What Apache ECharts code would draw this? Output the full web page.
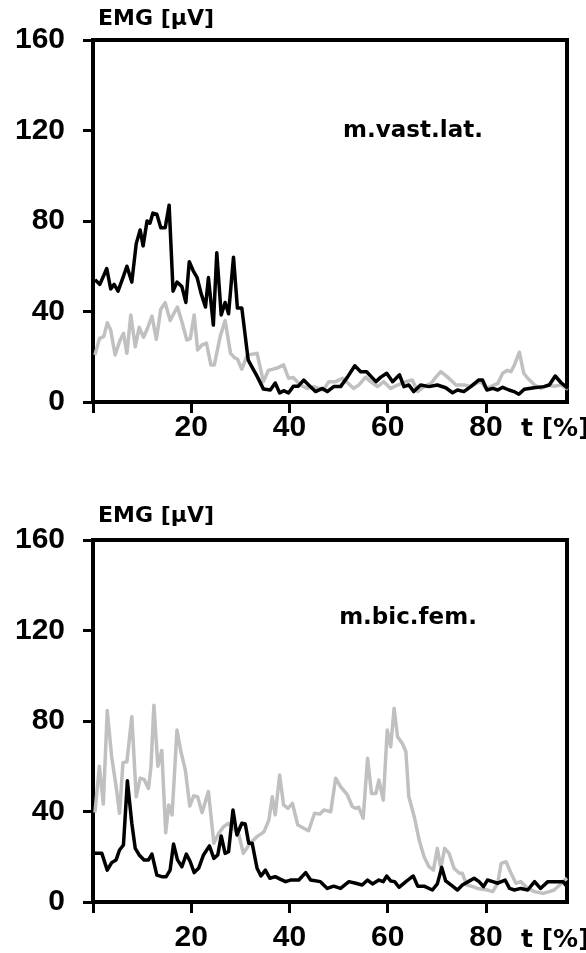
<!DOCTYPE html>
<html>
<head>
<meta charset="utf-8">
<script src="https://cdn.jsdelivr.net/npm/echarts@6/dist/echarts.min.js"></script>
<style>
html, body { margin: 0; padding: 0; background: #fff; }
#chart { width: 586px; height: 953px; }
</style>
</head>
<body>
<div id="chart"></div>
<script>
// EMG envelopes over the movement cycle, t in percent, amplitude in microvolts.
// Each series is a list of [t, EMG] samples.

// m. vastus lateralis
const vastLatBlack = [
  [0.4,54],[1.4,52],[2.8,59],[3.6,50],[4.3,52],[5.1,49],[6.1,55],[6.9,60],[7.9,53],[8.8,70],
  [9.6,76],[10.2,69],[11.0,80],[11.6,79],[12.2,83.5],[13.0,83],[13.8,77],[14.7,77],[15.5,87],[16.3,49],
  [17.1,53],[18.1,51],[18.9,44],[19.6,62],[20.4,58],[21.2,55],[22.0,48],[22.9,42],[23.5,55],[24.5,34],
  [25.2,66],[26.1,38.5],[26.9,44],[27.6,39],[28.6,64],[29.4,41.5],[30.3,41.5],[31.6,18.5],[33.5,11],[34.7,5.7],
  [36.1,5.3],[37.1,8.4],[38.0,4],[38.8,5],[39.8,4],[40.8,7],[41.8,7],[42.9,9.7],[43.9,7.5],[45.3,4.6],
  [46.7,6],[47.7,4.6],[49.0,6.8],[50.4,6.8],[51.8,11],[53.3,16],[54.5,13.4],[55.7,13.4],[57.6,9],[58.6,11],
  [59.8,12.7],[61.0,9],[62.4,12],[63.3,6.8],[64.3,7.5],[65.3,4.6],[66.7,7.5],[68.4,6.8],[70.1,7.5],[71.8,6.3],
  [73.2,4.1],[74.2,5.3],[75.5,4.6],[76.9,6.8],[78.5,9.7],[79.3,9.7],[80.2,5.3],[81.4,6],[82.4,5.3],[83.4,6.5],
  [84.7,5.3],[85.7,4.6],[86.7,3.4],[87.8,5.6],[89.8,6.3],[91.8,6.8],[92.9,7.5],[94.1,11.5],[95.3,8.5],[96.7,6]
];
const vastLatGray = [
  [0.4,20.8],[1.3,28],[2.2,29],[2.9,35],[3.6,31.8],[4.5,20.8],[5.4,26.7],[6.2,30.4],[6.9,21.5],[7.7,38.5],
  [8.6,24.4],[9.4,33],[10.3,28.6],[11.1,32.6],[12.0,38],[12.9,27.7],[13.8,41],[14.7,43.9],[15.7,36],[16.4,38.9],
  [17.2,42],[18.1,35.5],[19.1,27.4],[19.8,28],[20.6,38.5],[21.3,23],[22.2,25.2],[23.1,26],[24.0,16.4],[24.7,16.4],
  [25.9,29],[26.9,36],[28.0,21.5],[28.8,19.6],[29.4,19],[30.3,14.5],[31.4,20.8],[33.4,21.5],[34.7,9],[35.7,14],
  [37.5,15],[38.8,16.4],[39.8,10.5],[40.8,10.8],[42.2,7.5],[43.6,6],[44.9,6.8],[46.9,5.3],[48.0,9],[49.4,9],
  [50.8,10.5],[53.1,6],[54.1,7.5],[55.5,11],[56.5,9],[57.9,6.8],[59.2,9],[60.6,6],[62.0,7.5],[63.7,9],
  [65.0,9.7],[66.1,4.6],[67.4,6.8],[68.8,8.2],[69.8,11],[70.8,13.4],[72.2,11],[73.9,7.5],[75.6,7.5],[76.9,6.8],
  [78.0,8.2],[79.0,9],[80.0,6],[81.0,6.8],[82.4,8.2],[83.4,12.7],[84.4,14],[85.1,13.4],[85.8,16.4],[86.8,22],
  [87.7,12.7],[88.5,10.5],[89.9,7.5],[91.2,6],[92.6,7.5],[93.9,7],[95.3,7.5],[96.7,5.6]
];

// m. biceps femoris
const bicFemBlack = [
  [0.4,21.5],[1.8,21.5],[2.9,14.1],[3.8,17.4],[4.7,18.6],[5.4,23],[6.2,25.2],[7.0,53.6],[7.9,34.8],[8.6,23.7],
  [9.4,20.8],[10.4,18.6],[11.3,18.6],[12.0,21.2],[13.0,11.9],[14.0,11.2],[14.9,11.2],[15.7,14.1],[16.4,25.6],[17.2,18.6],
  [18.1,15.6],[19.0,21.2],[19.8,17.8],[20.6,13],[21.5,14.9],[22.5,20.8],[23.7,24.8],[24.6,19.3],[25.4,20.8],[26.1,29.2],
  [26.9,21.5],[27.6,22.2],[28.5,40.7],[29.3,29.6],[30.3,34.8],[31.0,34.5],[31.7,26],[32.4,26],[33.4,14.9],[34.2,11.5],
  [35.1,14.1],[36.0,10.5],[37.1,11.2],[38.2,10],[39.2,9],[40.2,9.7],[41.9,9.7],[43.3,13],[44.3,9.7],[46.3,9],
  [47.7,6],[49.0,7],[50.4,6],[52.1,9],[53.5,8.3],[54.8,7.5],[55.9,9.7],[56.9,8],[58.2,9.7],[59.1,9],
  [59.8,11.5],[60.6,9.3],[61.4,9],[62.3,6.5],[63.7,9],[65.2,11.5],[66.1,7],[67.4,7],[69.1,5.3],[70.1,8],
  [71.0,15.3],[71.8,9.3],[73.2,7],[74.2,5.3],[75.2,7.5],[76.4,9],[77.6,10.5],[78.6,9],[79.5,6.8],[80.3,9.7],
  [81.4,9],[82.4,8.3],[83.9,9.7],[84.8,6],[85.8,5.3],[87.1,6],[88.5,5.3],[89.9,9],[91.1,6],[92.6,9],
  [93.9,9],[95.7,9],[96.5,6.8]
];
const bicFemGray = [
  [0.4,39.5],[1.3,60],[2.1,43.3],[2.9,84.6],[3.8,64.2],[4.7,51],[5.4,39.2],[6.1,61.6],[6.9,62],[7.9,81.9],
  [8.8,46.5],[9.6,54.7],[10.4,54.2],[11.3,50.2],[11.8,59.8],[12.4,87],[13.2,60],[14.0,67],[14.8,30.6],[15.4,42.9],
  [16.1,38.5],[17.1,76],[17.9,66.4],[18.8,58.3],[19.7,42.4],[20.5,46.9],[21.3,46.5],[22.2,39.5],[23.5,48.8],[24.6,26],
  [25.6,30.4],[26.6,33.3],[27.6,34.8],[28.6,32.6],[29.7,29.6],[30.6,21.5],[32.0,26],[33.4,28.9],[34.8,31],[35.8,36.2],
  [36.5,46.5],[37.1,38.5],[38.0,56.1],[38.8,42.9],[39.7,41.4],[40.6,43.6],[41.7,34],[42.9,32.6],[43.9,31.5],[45.1,39.2],
  [46.2,38.9],[47.0,40.7],[48.4,39.9],[49.4,54.7],[50.4,51],[51.8,47.3],[52.8,42.1],[53.5,41.4],[54.1,41.9],[55.0,37],
  [55.9,63.5],[56.7,48],[57.6,48],[58.2,53.9],[59.1,45],[59.9,76],[60.6,68.6],[61.3,85.6],[62.0,73],[63.0,70],
  [63.7,66.4],[64.3,46.5],[65.4,37.7],[66.4,27.4],[67.4,20],[68.4,15.6],[69.3,14.1],[70.1,23.7],[70.8,14.9],[71.6,23.7],
  [72.5,21.5],[73.5,14.9],[74.6,12.7],[75.2,12.7],[76.1,7.5],[77.3,6.8],[78.3,6],[80.3,5.3],[81.4,4.6],[82.4,8.3],
  [83.1,17.1],[84.1,17.8],[85.1,12.7],[86.1,8.3],[87.1,9],[88.5,6],[89.9,4.6],[91.6,3.8],[92.9,4.6],[93.9,5.3],
  [95.0,7.5],[96.0,9.7],[96.5,10.5]
];

// Axis ticks and labels
const yTicks = [0, 40, 80, 120, 160];
const xTicks = [0, 20, 40, 60, 80];
const xTickLabels = [20, 40, 60, 80];
const tMax = 96.5;
const muscleNames = ['m.vast.lat.', 'm.bic.fem.'];
const yTitle = 'EMG [µV]';
const xTitle = 't [%]';

const NUM_FONT = '"Liberation Sans", Arial, sans-serif';
const TEXT_FONT = '"DejaVu Sans", sans-serif';
const GRAY = '#c0c0c0';

const panels = [
  { top: 40, xLabelMargin: 11 },
  { top: 540, xLabelMargin: 21 }
];
const plotLeft = 93, plotWidth = 474, plotHeight = 362;

function xAxisFor(i) {
  return {
    type: 'value', gridIndex: i, min: 0, max: tMax,
    splitLine: { show: false },
    axisLine: { show: true, onZero: false, lineStyle: { color: '#000', width: 4 } },
    axisTick: { show: true, inside: false, length: 11, customValues: xTicks,
                lineStyle: { color: '#000', width: 3 } },
    axisLabel: { show: true, customValues: xTickLabels, margin: panels[i].xLabelMargin,
                 color: '#000', fontFamily: NUM_FONT, fontWeight: 'bold', fontSize: 30 }
  };
}
function yAxisFor(i) {
  return {
    type: 'value', gridIndex: i, min: 0, max: 160, interval: 40,
    splitLine: { show: false },
    axisLine: { show: true, lineStyle: { color: '#000', width: 4 } },
    axisTick: { show: true, inside: false, length: 10, lineStyle: { color: '#000', width: 3 } },
    axisLabel: { show: true, margin: 28, color: '#000', fontFamily: NUM_FONT, fontWeight: 'bold', fontSize: 30,
                 customValues: yTicks }
  };
}
function lineSeries(data, color, i, z) {
  return {
    type: 'line', xAxisIndex: i, yAxisIndex: i, data: data, showSymbol: false, symbol: 'none',
    smooth: false, z: z, clip: false, animation: false,
    lineStyle: { color: color, width: 3.5, join: 'round' }
  };
}

const graphics = [];
panels.forEach((p, i) => {
  graphics.push({
    type: 'text', x: 98, y: p.top - 21 + (i === 1 ? -3 : 0),
    style: { text: yTitle, fill: '#000', font: 'bold 22px ' + TEXT_FONT, align: 'left', verticalAlign: 'middle' }
  });
  graphics.push({
    type: 'text', x: 521, y: p.top + plotHeight + (i === 0 ? 27 : 38),
    style: { text: xTitle, fill: '#000', font: 'bold 25px ' + TEXT_FONT, align: 'left', verticalAlign: 'middle' }
  });
  graphics.push({
    type: 'text', x: i === 0 ? 413 : 408, y: p.top + (i === 0 ? 91 : 78),
    style: { text: muscleNames[i], fill: '#000', font: 'bold 23px ' + TEXT_FONT, align: 'center', verticalAlign: 'middle' }
  });
});

const chart = echarts.init(document.getElementById('chart'), null, { renderer: 'canvas' });
chart.setOption({
  animation: false,
  backgroundColor: '#fff',
  grid: panels.map(p => ({
    left: plotLeft, top: p.top, width: plotWidth, height: plotHeight,
    show: true, borderColor: '#000', borderWidth: 4, backgroundColor: 'transparent'
  })),
  xAxis: [xAxisFor(0), xAxisFor(1)],
  yAxis: [yAxisFor(0), yAxisFor(1)],
  series: [
    lineSeries(vastLatGray, GRAY, 0, 2),
    lineSeries(vastLatBlack, '#000', 0, 3),
    lineSeries(bicFemGray, GRAY, 1, 2),
    lineSeries(bicFemBlack, '#000', 1, 3)
  ],
  graphic: graphics
});
</script>
</body>
</html>
